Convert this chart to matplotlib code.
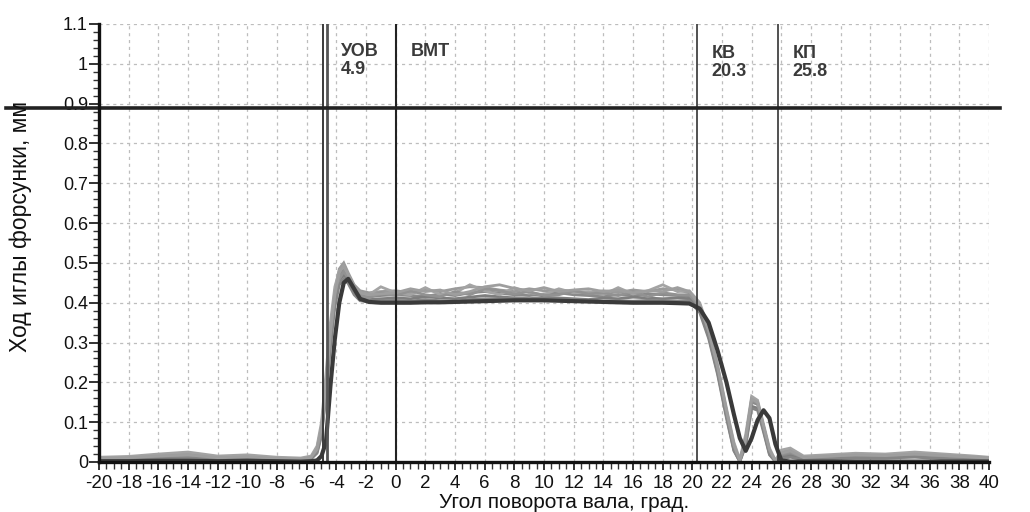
import matplotlib
matplotlib.use("Agg")
import matplotlib.pyplot as plt
from matplotlib.ticker import MultipleLocator, FixedLocator

plt.rcParams['font.family'] = ['Liberation Sans', 'DejaVu Sans']

# Crank angle grid (degrees) shared by all needle-lift traces
ANGLE = [-20, -18, -16, -14, -12, -10, -8,
         -6.4, -5.7, -5.3, -5.0, -4.7, -4.4, -4.1, -3.8, -3.5, -3.2, -2.8, -2.4, -1.8, -1,
         0, 1, 2, 3, 4, 5, 6, 7, 8, 9, 10, 11, 12, 13, 14, 15, 16, 17, 18, 19,
         19.8, 20.5, 21.1, 21.7, 22.3, 22.8, 23.2, 23.6, 24.0, 24.4, 24.8, 25.2, 25.6, 26.0, 26.6,
         27.5, 29, 31, 33, 35, 37, 39, 40]

# Individual injection cycles, needle lift in mm
CYCLE_1 = [0.010, 0.012, 0.016, 0.020, 0.012, 0.014, 0.010,
           0.008, 0.012, 0.035, 0.090, 0.200, 0.330, 0.430, 0.485, 0.500, 0.475, 0.445, 0.430, 0.425, 0.428,
           0.430, 0.425, 0.432, 0.428, 0.435, 0.440, 0.438, 0.432, 0.428, 0.435, 0.430, 0.432, 0.428, 0.425, 0.430, 0.426, 0.432, 0.428, 0.435, 0.432,
           0.425, 0.395, 0.330, 0.240, 0.130, 0.045, 0.004, 0.060, 0.160, 0.150, 0.090, 0.030, 0.003, 0.025, 0.030,
           0.012, 0.015, 0.020, 0.018, 0.022, 0.018, 0.012, 0.010]
CYCLE_2 = [0.008, 0.010, 0.012, 0.014, 0.010, 0.011, 0.008,
           0.006, 0.008, 0.025, 0.070, 0.170, 0.300, 0.410, 0.470, 0.485, 0.465, 0.435, 0.420, 0.415, 0.418,
           0.420, 0.418, 0.416, 0.422, 0.418, 0.425, 0.428, 0.424, 0.420, 0.418, 0.422, 0.425, 0.420, 0.418, 0.416, 0.420, 0.418, 0.422, 0.420, 0.418,
           0.415, 0.385, 0.320, 0.230, 0.120, 0.035, 0.002, 0.050, 0.150, 0.145, 0.085, 0.025, 0.002, 0.015, 0.020,
           0.010, 0.012, 0.015, 0.014, 0.016, 0.012, 0.010, 0.008]
CYCLE_3 = [0.006, 0.008, 0.010, 0.012, 0.008, 0.010, 0.006,
           0.005, 0.010, 0.030, 0.080, 0.190, 0.310, 0.400, 0.455, 0.470, 0.455, 0.425, 0.410, 0.408, 0.410,
           0.412, 0.410, 0.415, 0.412, 0.410, 0.414, 0.418, 0.415, 0.412, 0.410, 0.414, 0.412, 0.410, 0.408, 0.412, 0.410, 0.414, 0.412, 0.410, 0.412,
           0.410, 0.380, 0.315, 0.225, 0.115, 0.030, 0.001, 0.045, 0.140, 0.135, 0.080, 0.020, 0.001, 0.010, 0.015,
           0.008, 0.010, 0.012, 0.012, 0.014, 0.010, 0.008, 0.006]
CYCLE_4 = [0.012, 0.014, 0.020, 0.025, 0.015, 0.018, 0.012,
           0.010, 0.015, 0.040, 0.100, 0.220, 0.350, 0.440, 0.480, 0.490, 0.470, 0.440, 0.425, 0.420, 0.440,
           0.425, 0.420, 0.438, 0.420, 0.425, 0.445, 0.430, 0.420, 0.438, 0.425, 0.420, 0.435, 0.425, 0.428, 0.420, 0.438, 0.422, 0.430, 0.445, 0.428,
           0.430, 0.400, 0.335, 0.245, 0.135, 0.050, 0.006, 0.070, 0.165, 0.155, 0.095, 0.035, 0.004, 0.030, 0.035,
           0.015, 0.018, 0.022, 0.020, 0.025, 0.020, 0.015, 0.012]
CYCLE_5 = [0.007, 0.009, 0.013, 0.016, 0.009, 0.012, 0.007,
           0.005, 0.010, 0.028, 0.075, 0.180, 0.305, 0.405, 0.460, 0.478, 0.462, 0.432, 0.418, 0.412, 0.425,
           0.418, 0.430, 0.420, 0.415, 0.428, 0.420, 0.435, 0.430, 0.422, 0.428, 0.418, 0.420, 0.430, 0.422, 0.425, 0.418, 0.428, 0.415, 0.425, 0.420,
           0.420, 0.390, 0.325, 0.235, 0.125, 0.040, 0.003, 0.055, 0.155, 0.148, 0.088, 0.028, 0.002, 0.020, 0.025,
           0.010, 0.012, 0.016, 0.015, 0.018, 0.014, 0.011, 0.009]
CYCLE_6 = [0.005, 0.006, 0.008, 0.010, 0.006, 0.008, 0.005,
           0.004, 0.008, 0.022, 0.065, 0.165, 0.290, 0.390, 0.445, 0.460, 0.448, 0.420, 0.405, 0.402, 0.405,
           0.406, 0.404, 0.408, 0.405, 0.404, 0.408, 0.410, 0.410, 0.412, 0.410, 0.410, 0.408, 0.406, 0.405, 0.404, 0.405, 0.404, 0.406, 0.405, 0.404,
           0.405, 0.375, 0.310, 0.220, 0.110, 0.028, 0.001, 0.040, 0.135, 0.130, 0.075, 0.018, 0.001, 0.008, 0.012,
           0.006, 0.008, 0.010, 0.010, 0.012, 0.008, 0.006, 0.005]
CYCLE_7 = [0.009, 0.011, 0.015, 0.018, 0.011, 0.013, 0.009,
           0.007, 0.012, 0.032, 0.085, 0.195, 0.320, 0.420, 0.475, 0.495, 0.470, 0.440, 0.425, 0.420, 0.422,
           0.425, 0.435, 0.428, 0.432, 0.420, 0.428, 0.440, 0.445, 0.436, 0.430, 0.438, 0.428, 0.432, 0.435, 0.428, 0.432, 0.425, 0.430, 0.428, 0.438,
           0.428, 0.395, 0.328, 0.238, 0.128, 0.042, 0.003, 0.058, 0.158, 0.150, 0.090, 0.030, 0.002, 0.022, 0.028,
           0.011, 0.014, 0.018, 0.016, 0.020, 0.016, 0.012, 0.010]

# Averaged needle lift
MEAN_LIFT = [0.002, 0.002, 0.003, 0.003, 0.002, 0.003, 0.002,
             0.001, 0.002, 0.004, 0.015, 0.050, 0.190, 0.310, 0.400, 0.450, 0.460, 0.435, 0.410, 0.402, 0.400,
             0.400, 0.400, 0.401, 0.401, 0.402, 0.403, 0.404, 0.405, 0.406, 0.406, 0.406, 0.405, 0.404, 0.403, 0.402, 0.401, 0.400, 0.400, 0.400, 0.399,
             0.398, 0.385, 0.350, 0.280, 0.200, 0.120, 0.060, 0.028, 0.060, 0.105, 0.130, 0.110, 0.045, 0.004, 0.001,
             0.001, 0.001, 0.001, 0.001, 0.001, 0.001, 0.001, 0.001]

CYCLES = [CYCLE_1, CYCLE_2, CYCLE_3, CYCLE_4, CYCLE_5, CYCLE_6, CYCLE_7]
CYCLE_COLORS = ['#9a9a9a', '#8a8a8a', '#7e7e7e', '#a4a4a4', '#929292', '#858585', '#9e9e9e']

# Timing markers
SOI_ANGLE = -4.9        # start of injection
SOI_ANGLE_2 = -4.6
TDC_ANGLE = 0.0
EOI_ANGLE = 20.3
EOF_ANGLE = 25.8
LIFT_LIMIT = 0.888

X_TICKS = list(range(-20, 41, 2))
Y_TICKS = [0, 0.1, 0.2, 0.3, 0.4, 0.5, 0.6, 0.7, 0.8, 0.9, 1.0, 1.1]
Y_TICK_LABELS = ['0', '0.1', '0.2', '0.3', '0.4', '0.5', '0.6', '0.7', '0.8', '0.9', '1', '1.1']

fig = plt.figure(figsize=(10.30, 5.12), dpi=100)
ax = fig.add_axes([99 / 1030, 50 / 512, 890 / 1030, 438 / 512])
ax.set_xlim(-20, 40)
ax.set_ylim(0, 1.1)

# dotted grid
ax.xaxis.set_major_locator(FixedLocator(X_TICKS))
ax.yaxis.set_major_locator(FixedLocator(Y_TICKS))
ax.xaxis.set_minor_locator(MultipleLocator(0.5))
ax.yaxis.set_minor_locator(MultipleLocator(0.02))
ax.grid(True, which='major', color='#bdbdbd', linestyle=(0, (2.5, 3)), linewidth=0.9)

for ys, c in zip(CYCLES, CYCLE_COLORS):
    ax.plot(ANGLE, ys, color=c, lw=2.0, zorder=3, solid_joinstyle='miter')
ax.plot(ANGLE, MEAN_LIFT, color='#3a3a3a', lw=3.0, zorder=4)

# marker lines
ax.axvline(SOI_ANGLE, color='#3a3a3a', lw=1.4, zorder=5)
ax.axvline(SOI_ANGLE_2, color='#555555', lw=2.0, zorder=5)
ax.axvline(TDC_ANGLE, color='#222222', lw=1.5, zorder=5)
ax.axvline(EOI_ANGLE, color='#333333', lw=1.2, zorder=5)
ax.axvline(EOF_ANGLE, color='#333333', lw=1.2, zorder=5)
ax.axhline(LIFT_LIMIT, xmin=-0.105, xmax=1.012, color='#222222', lw=2.6,
           zorder=6, clip_on=False)

txt = dict(fontsize=13, fontweight='bold', color='#3a3a3a', va='top', ha='left',
           linespacing=1.08, zorder=7)
ax.text(SOI_ANGLE_2 + 0.9, 1.053, 'УОВ\n' + f'{abs(SOI_ANGLE):.1f}', **txt)
ax.text(TDC_ANGLE + 1.0, 1.053, 'ВМТ', **txt)
ax.text(EOI_ANGLE + 1.0, 1.048, 'КВ\n' + f'{EOI_ANGLE:.1f}', **txt)
ax.text(EOF_ANGLE + 0.95, 1.048, 'КП\n' + f'{EOF_ANGLE:.1f}', **txt)

# axes styling
for s in ('top', 'right'):
    ax.spines[s].set_visible(False)
for s in ('left', 'bottom'):
    ax.spines[s].set_linewidth(2.4)
    ax.spines[s].set_color('#111111')
    ax.spines[s].set_zorder(8)

ax.set_yticklabels(Y_TICK_LABELS)
ax.set_xticklabels([str(t) for t in X_TICKS])
ax.tick_params(axis='x', which='major', direction='out', length=6, width=1.2,
               labelsize=13.5, pad=3, colors='#111111')
ax.tick_params(axis='x', which='minor', direction='out', length=5, width=1.0, colors='#333333')
ax.tick_params(axis='y', which='major', direction='out', length=7, width=1.2,
               labelsize=13, pad=1, colors='#111111')
ax.tick_params(axis='y', which='minor', direction='out', length=4, width=1.0, colors='#333333')

fig.text(21 / 1030, 1 - 226 / 512, 'Ход иглы форсунки, мм', rotation=90,
         ha='center', va='center', fontsize=16.5, color='#111111')
fig.text(564 / 1030, 1 - 503 / 512, 'Угол поворота вала, град.',
         ha='center', va='center', fontsize=15, color='#111111')

fig.savefig('out.png', dpi=100, facecolor='white')
